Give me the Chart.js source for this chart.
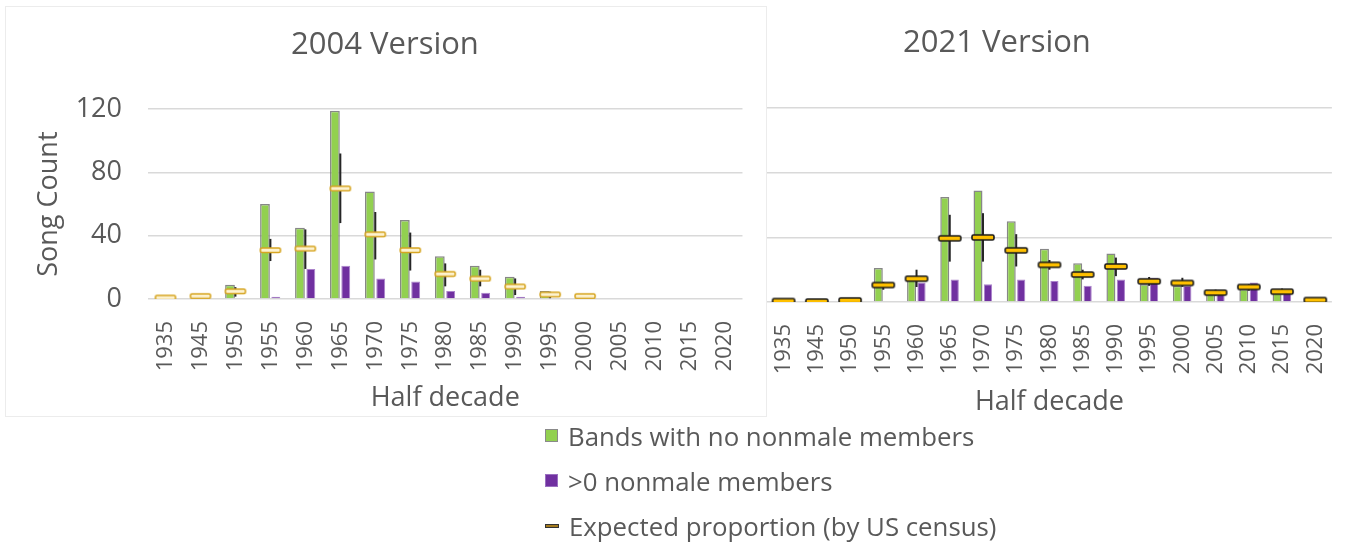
<!DOCTYPE html>
<html>
<head>
<meta charset="utf-8">
<script src="https://cdn.jsdelivr.net/npm/chart.js@4.4.0/dist/chart.umd.min.js"></script>
<style>
  body { margin: 0; background: #fff; width: 1356px; height: 558px; overflow: hidden; font-family: 'Open Sans', sans-serif; color: #595959; }
  #frame { position: absolute; left: 5px; top: 6px; width: 760px; height: 409px; border: 1px solid #ececec; }
  #c2004 { position: absolute; left: 0; top: 0; }
  #c2021 { position: absolute; left: 638px; top: 0; }
  #legend { position: absolute; left: 545px; top: 413px; font-size: 25.8px; }
  #legend .row { height: 45px; line-height: 36px; display: flex; align-items: center; }
  #legend .sw { display: inline-block; margin-right: 10px; box-sizing: border-box; }
</style>
</head>
<body>
<div id="frame"></div>
<canvas id="c2004" width="766" height="425"></canvas>
<canvas id="c2021" width="718" height="425"></canvas>
<div id="legend"></div>
<script>
// half decades (1940 is absent in the source)
const categories = ['1935', '1945', '1950', '1955', '1960', '1965', '1970', '1975', '1980',
                    '1985', '1990', '1995', '2000', '2005', '2010', '2015', '2020'];

const seriesNames = ['Bands with no nonmale members', '>0 nonmale members', 'Expected proportion (by US census)'];

// 2004 version
const noNonmale2004   = [0, 0, 9, 60, 45, 119, 68, 50, 27, 21, 14, 5, 0, 0, 0, 0, 0];
const someNonmale2004 = [0, 0, 0, 1.5, 19, 21, 13, 11, 5, 4, 1.5, 0, 0, 0, 0, 0, 0];
const expected2004    = [1, 2, 5, 31, 32, 70, 41, 31, 16, 13, 8, 3, 2, null, null, null, null];
const errLow2004      = [null, null, 1.5, 24, 19, 48, 25, 18, 8, 8, 2.5, 0.5, null, null, null, null, null];
const errHigh2004     = [null, null, 7.5, 38, 44, 92, 55, 42, 22.5, 18.5, 13, 4.6, null, null, null, null, null];

// 2021 version
const noNonmale2021   = [0, 0, 0, 21, 16, 65, 69, 50, 33, 24, 30, 11, 10, 6, 8, 6, 0];
const someNonmale2021 = [0, 0, 0, 0, 12, 14, 11, 14, 13, 10, 14, 15, 10, 6, 12, 6, 0];
const expected2021    = [0.6, 0.3, 1, 10.5, 14.4, 39.4, 40, 32, 23, 17, 22, 12.8, 11.8, 5.8, 9.3, 6.4, 1.2];
const errLow2021      = [null, null, null, 7.6, 9.3, 25, 25, 22, 20, 14, 16, 10, 9.4, 4, 7, 4.8, null];
const errHigh2021     = [null, null, null, 12.4, 20, 54, 55, 42, 26, 20, 27.5, 15.5, 15, 7.6, 11, 8.3, null];

const yTicks = [0, 40, 80, 120];

const GREEN = '#92d050', PURPLE = '#7030a0', TEXT = '#595959', GRID = '#d9d9d9';

function markerImage(w, h, fill, stroke) {
    const c = document.createElement('canvas');
    c.width = w + 4; c.height = h + 4;
    const g = c.getContext('2d');
    g.beginPath();
    g.roundRect(2, 2, w, h, 1.5);
    g.fillStyle = fill; g.fill();
    g.lineWidth = 1.6; g.strokeStyle = stroke; g.stroke();
    return c;
}

// vertical error lines, drawn just before the expected markers (over the bars)
const errorBars = {
    id: 'errorBars',
    beforeDatasetDraw(chart, args) {
        if (args.index !== 0) return;
        const ds = chart.data.datasets[0];
        const xs = chart.scales.x, ys = chart.scales.y, ctx = chart.ctx;
        ctx.save();
        ctx.strokeStyle = '#262626';
        ctx.lineWidth = 2;
        ds.errLow.forEach((lo, i) => {
            const hi = ds.errHigh[i];
            if (lo == null || hi == null) return;
            const px = xs.getPixelForValue(i);
            ctx.beginPath();
            ctx.moveTo(px, ys.getPixelForValue(lo));
            ctx.lineTo(px, ys.getPixelForValue(hi));
            ctx.stroke();
        });
        ctx.restore();
    }
};

function makeChart(id, cfg) {
    return new Chart(document.getElementById(id), {
        type: 'bar',
        data: {
            labels: categories,
            datasets: [{
                type: 'line',
                label: seriesNames[2],
                data: cfg.expected,
                errLow: cfg.low,
                errHigh: cfg.high,
                showLine: false,
                pointStyle: cfg.marker,
                pointRadius: 10,
                order: 0
            }, {
                label: seriesNames[0],
                data: cfg.green,
                backgroundColor: GREEN,
                borderColor: 'rgba(105,105,105,0.8)',
                borderWidth: 1.5,
                categoryPercentage: cfg.catPct,
                barPercentage: 0.9,
                order: 1
            }, {
                label: seriesNames[1],
                data: cfg.purple,
                backgroundColor: PURPLE,
                borderColor: 'rgba(150,100,190,0.8)',
                borderWidth: 1,
                categoryPercentage: cfg.catPct,
                barPercentage: 0.82,
                order: 2
            }]
        },
        options: {
            responsive: false,
            animation: false,
            layout: { padding: { left: cfg.padLeft, right: cfg.padRight, top: 0, bottom: 0 } },
            plugins: {
                legend: { display: false },
                tooltip: { enabled: false },
                title: {
                    display: true,
                    text: cfg.title,
                    color: TEXT,
                    font: { family: 'Open Sans', size: 31, weight: 'normal' },
                    padding: { top: cfg.titleTop, bottom: cfg.titleBottom }
                }
            },
            scales: {
                x: {
                    grid: { display: false },
                    border: { display: false },
                    ticks: {
                        color: TEXT, minRotation: 90, maxRotation: 90, padding: 14,
                        font: { family: 'Open Sans', size: 22 }
                    },
                    title: {
                        display: true, text: 'Half decade', color: TEXT,
                        font: { family: 'Open Sans', size: 27 },
                        padding: { top: 0, bottom: cfg.xTitleBottom }
                    },
                    afterFit(scale) { scale.height = 425 - cfg.plotBottom; }
                },
                y: {
                    min: 0, max: 120,
                    afterBuildTicks(scale) { scale.ticks = yTicks.map(v => ({ value: v })); },
                    grid: { color: GRID, lineWidth: 1.5, drawTicks: false },
                    border: { display: false },
                    ticks: {
                        display: cfg.showY, color: TEXT, padding: 26,
                        font: { family: 'Open Sans', size: 27 }
                    },
                    title: {
                        display: cfg.showY, text: 'Song Count', color: TEXT,
                        font: { family: 'Open Sans', size: 27 },
                        padding: { top: 8, bottom: 0 }
                    },
                    afterFit(scale) { scale.width = cfg.yWidth; }
                }
            }
        },
        plugins: [errorBars]
    });
}

makeChart('c2004', {
    title: '2004 Version',
    green: noNonmale2004, purple: someNonmale2004, expected: expected2004,
    low: errLow2004, high: errHigh2004,
    marker: markerImage(20, 4.5, '#fdf2cf', '#d6a522'),
    catPct: 0.62, padLeft: 25, padRight: 21, yWidth: 123, showY: true,
    titleTop: 27, titleBottom: 45, plotBottom: 299, xTitleBottom: 10
});

makeChart('c2021', {
    title: '2021 Version',
    green: noNonmale2021, purple: someNonmale2021, expected: expected2021,
    low: errLow2021, high: errHigh2021,
    marker: markerImage(22, 5, '#ffc000', '#1a1a1a'),
    catPct: 0.6, padLeft: 6, padRight: 6, yWidth: 123, showY: false,
    titleTop: 25, titleBottom: 46, plotBottom: 302, xTitleBottom: 6
});

// shared legend
const swatches = [
    'width:13px;height:13px;background:' + GREEN + ';border:1.5px solid #8a8a8a',
    'width:13px;height:13px;background:' + PURPLE + ';border:1px solid #9a70c0',
    'width:14px;height:4px;background:#a47b1e;border:1px solid #333'
];
document.getElementById('legend').innerHTML = seriesNames.map((name, i) =>
    '<div class="row"><span class="sw" style="' + swatches[i] + '"></span>' + name + '</div>'
).join('');
</script>
</body>
</html>
